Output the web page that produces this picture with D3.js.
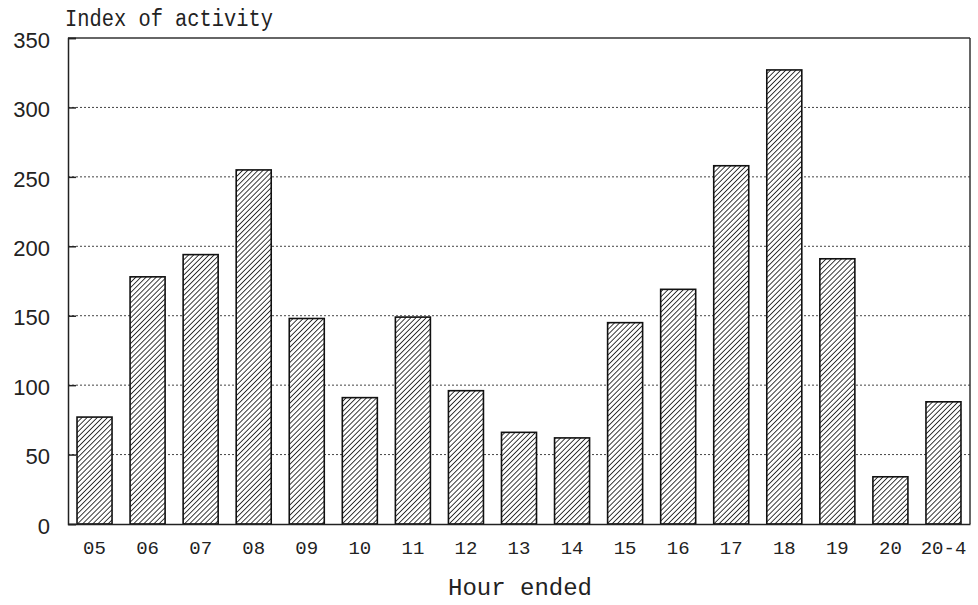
<!DOCTYPE html>
<html><head><meta charset="utf-8">
<script src="https://cdn.jsdelivr.net/npm/d3@7"></script>
<style>body{margin:0;background:#fff}</style>
</head><body>
<svg id="c" width="978" height="605"></svg>
<script>
const categories = ["05","06","07","08","09","10","11","12","13","14","15","16","17","18","19","20","20-4"];
const values = [77,178,194,255,148,91,149,96,66,62,145,169,258,327,191,34,88];
const yTicks = [0,50,100,150,200,250,300,350];

const svg = d3.select("#c");
const m = {l:68, r:970, t:38, b:524};
const x = d3.scaleBand().domain(categories).range([m.l, m.r]).paddingInner(0.34).paddingOuter(0.17);
const y = d3.scaleLinear().domain([0,350]).range([m.b, m.t]);

const defs = svg.append("defs");
const pat = defs.append("pattern").attr("id","hatch").attr("patternUnits","userSpaceOnUse")
  .attr("width",3.6).attr("height",3.6).attr("patternTransform","rotate(45)");
pat.append("rect").attr("width",3.6).attr("height",3.6).attr("fill","#fff");
pat.append("line").attr("x1",0).attr("y1",0).attr("x2",0).attr("y2",3.6).attr("stroke","#1a1a1a").attr("stroke-width",1.7);

// gridlines
svg.append("g").selectAll("line").data(yTicks.filter(d=>d>0&&d<350)).join("line")
  .attr("x1",m.l).attr("x2",m.r).attr("y1",d=>y(d)).attr("y2",d=>y(d))
  .attr("stroke","#444").attr("stroke-width",1).attr("stroke-dasharray","2,2");

// bars
svg.append("g").selectAll("rect").data(values).join("rect")
  .attr("x",(d,i)=>x(categories[i])).attr("width",x.bandwidth())
  .attr("y",d=>y(d)).attr("height",d=>y(0)-y(d))
  .attr("fill","url(#hatch)").attr("stroke","#111").attr("stroke-width",1.6);

// frame
svg.append("line").attr("x1",m.l).attr("x2",m.r).attr("y1",m.t).attr("y2",m.t).attr("stroke","#333").attr("stroke-width",1.5);
svg.append("line").attr("x1",m.r).attr("x2",m.r).attr("y1",m.t).attr("y2",m.b).attr("stroke","#333").attr("stroke-width",1.5);

// y axis
const ya = svg.append("g").attr("transform",`translate(${m.l},0)`)
  .call(d3.axisLeft(y).tickValues(yTicks).tickSize(-8).tickPadding(18));
ya.select(".domain").attr("stroke","#222").attr("stroke-width",1.5);
ya.selectAll(".tick line").attr("stroke","#222").attr("stroke-width",1.5);
ya.selectAll("text").attr("font-family","Liberation Sans, Arial, sans-serif").attr("font-size",22).attr("fill","#222").attr("dy","0.42em");

// x axis
const xa = svg.append("g").attr("transform",`translate(0,${m.b})`)
  .call(d3.axisBottom(x).tickSize(0).tickPadding(17));
xa.select(".domain").attr("stroke","#222").attr("stroke-width",1.5);
xa.selectAll("text").attr("font-family","Liberation Mono, Courier New, monospace").attr("font-size",19).attr("fill","#222");

svg.append("text").attr("x",65).attr("y",26).text("Index of activity")
  .attr("font-family","Liberation Mono, Courier New, monospace").attr("font-size",23)
  .attr("textLength",208).attr("lengthAdjust","spacingAndGlyphs").attr("fill","#222");
svg.append("text").attr("x",520).attr("y",595).attr("text-anchor","middle").text("Hour ended")
  .attr("font-family","Liberation Mono, Courier New, monospace").attr("font-size",24).attr("fill","#222");
</script>
</body></html>
